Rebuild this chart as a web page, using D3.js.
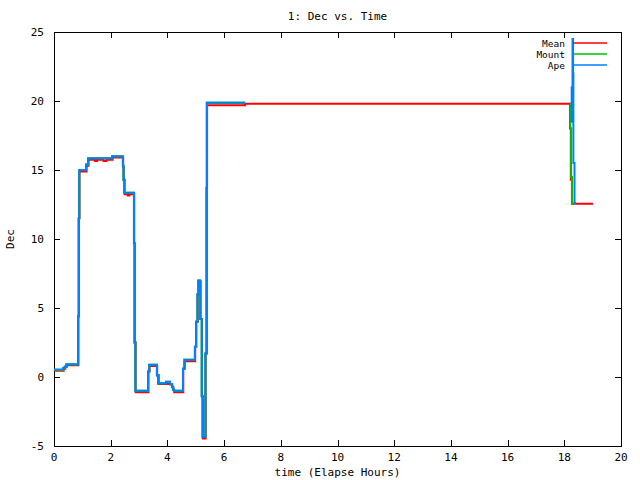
<!DOCTYPE html>
<html><head><meta charset="utf-8">
<script src="https://cdn.jsdelivr.net/npm/d3@7"></script>
<style>body{margin:0;background:#fff}svg text{font-family:"DejaVu Sans Mono",monospace;font-size:11px;fill:#000}svg text.leg{font-size:9.5px}</style>
</head><body>
<svg id="c" width="640" height="480"></svg>
<script>
const title = "1: Dec vs. Time";
const xLabel = "time (Elapse Hours)";
const yLabel = "Dec";
const xTicks = [0,2,4,6,8,10,12,14,16,18,20];
const yTicks = [-5,0,5,10,15,20,25];
const seriesNames = ["Mean","Mount","Ape"];
const seriesColors = ["#ff0000","#00c000","#0080ff"];

const meanT = [0.00,0.34,0.40,0.45,0.86,0.88,0.90,1.15,1.22,1.45,1.52,1.75,1.85,2.07,2.44,2.46,2.49,2.60,2.66,2.83,2.85,2.88,3.33,3.37,3.64,3.68,4.10,4.17,4.21,4.24,4.56,4.61,4.98,5.02,5.07,5.10,5.17,5.22,5.25,5.35,5.39,5.40,6.74,18.20,18.23,18.27,19.01];
const meanV = [0.45,0.6,0.75,0.85,4.4,11.5,14.9,15.3,15.75,15.65,15.75,15.65,15.75,15.9,15.2,14.3,13.25,13.15,13.25,9.7,2.5,-1.1,0.4,0.8,0.1,-0.5,-0.55,-0.75,-0.95,-1.1,0.6,1.15,2.2,4.0,6.0,6.9,4.2,-1.4,-4.45,1.7,13.7,19.7,19.8,18.0,14.3,12.55,12.55];

const mountT = [0.00,0.33,0.37,0.44,0.85,0.87,0.89,1.13,1.20,2.05,2.43,2.45,2.48,2.82,2.84,2.87,3.32,3.36,3.63,3.70,3.95,4.09,4.16,4.20,4.23,4.55,4.60,4.97,5.01,5.06,5.09,5.16,5.21,5.24,5.34,5.38,5.39,6.74,6.75,18.19,18.21,18.24,18.27,18.35];
const mountV = [0.5,0.62,0.75,0.9,4.4,11.5,15.0,15.4,15.85,16.0,15.3,14.3,13.35,9.7,2.5,-1.0,0.4,0.88,0.15,-0.45,-0.35,-0.5,-0.7,-0.9,-1.0,0.6,1.25,2.2,4.0,6.0,7.0,4.2,-1.4,-4.35,1.7,13.7,19.85,19.85,null,19.8,18.0,14.5,12.55,12.55];

const apeT = [0.00,0.32,0.39,0.43,0.85,0.87,0.89,1.13,1.20,2.05,2.43,2.45,2.48,2.82,2.84,2.87,3.32,3.36,3.63,3.67,3.95,4.09,4.16,4.20,4.23,4.55,4.60,4.97,5.01,5.06,5.09,5.16,5.21,5.24,5.34,5.38,5.39,6.74,6.75,18.24,18.26,18.29,18.31,18.32,18.36,18.42];
const apeV = [0.55,0.65,0.75,0.92,4.4,11.5,15.0,15.4,15.85,16.0,15.3,14.3,13.35,9.7,2.5,-1.0,0.4,0.88,0.1,-0.45,-0.35,-0.5,-0.7,-0.9,-1.0,0.6,1.25,2.2,4.0,6.0,7.0,4.2,-1.4,-4.35,1.7,13.7,19.9,19.9,null,18.5,21.0,24.5,22.0,15.5,12.6,12.6];

const svg = d3.select("#c");
const L=54,R=621,T=32,B=446;
const x = d3.scaleLinear().domain([0,20]).range([L,R]);
const y = d3.scaleLinear().domain([-5,25]).range([B,T]);

svg.append("rect").attr("x",L+0.5).attr("y",T+0.5).attr("width",R-L).attr("height",B-T)
  .attr("fill","none").attr("stroke","#000").attr("stroke-width",1);

const tl=6;
const gx = svg.append("g").attr("shape-rendering","crispEdges");
xTicks.forEach(t=>{
  const px=Math.round(x(t))+0.5;
  gx.append("line").attr("x1",px).attr("x2",px).attr("y1",B).attr("y2",B-tl).attr("stroke","#000");
  gx.append("line").attr("x1",px).attr("x2",px).attr("y1",T).attr("y2",T+tl).attr("stroke","#000");
  svg.append("text").attr("x",x(t)).attr("y",B+15).attr("text-anchor","middle").text(t);
});
yTicks.forEach(t=>{
  const py=Math.round(y(t))+0.5;
  gx.append("line").attr("x1",L).attr("x2",L+tl).attr("y1",py).attr("y2",py).attr("stroke","#000");
  gx.append("line").attr("x1",R).attr("x2",R-tl).attr("y1",py).attr("y2",py).attr("stroke","#000");
  svg.append("text").attr("x",44).attr("y",y(t)+4).attr("text-anchor","end").text(t);
});

svg.append("text").attr("x",(L+R)/2).attr("y",20).attr("text-anchor","middle").text(title);
svg.append("text").attr("x",(L+R)/2).attr("y",476).attr("text-anchor","middle").text(xLabel);
svg.append("text").attr("transform","translate(14,"+((T+B)/2)+") rotate(-90)").attr("text-anchor","middle").text(yLabel);

const line = d3.line().defined(d=>d[1]!==null).x(d=>x(d[0])).y(d=>y(d[1])).curve(d3.curveStepAfter);
const data = [d3.zip(meanT,meanV), d3.zip(mountT,mountV), d3.zip(apeT,apeV)];
const plot = svg.append("g");
data.forEach((d,i)=>{
  plot.append("path").attr("d",line(d)).attr("fill","none").attr("stroke",seriesColors[i]).attr("stroke-width",2);
});

seriesNames.forEach((n,i)=>{
  const ly = 43 + i*11;
  svg.append("text").attr("class","leg").attr("x",565).attr("y",ly+3.5).attr("text-anchor","end").text(n);
  svg.append("line").attr("x1",573).attr("x2",607).attr("y1",ly).attr("y2",ly).attr("stroke",seriesColors[i]).attr("stroke-width",1.5);
});
</script>
</body></html>
